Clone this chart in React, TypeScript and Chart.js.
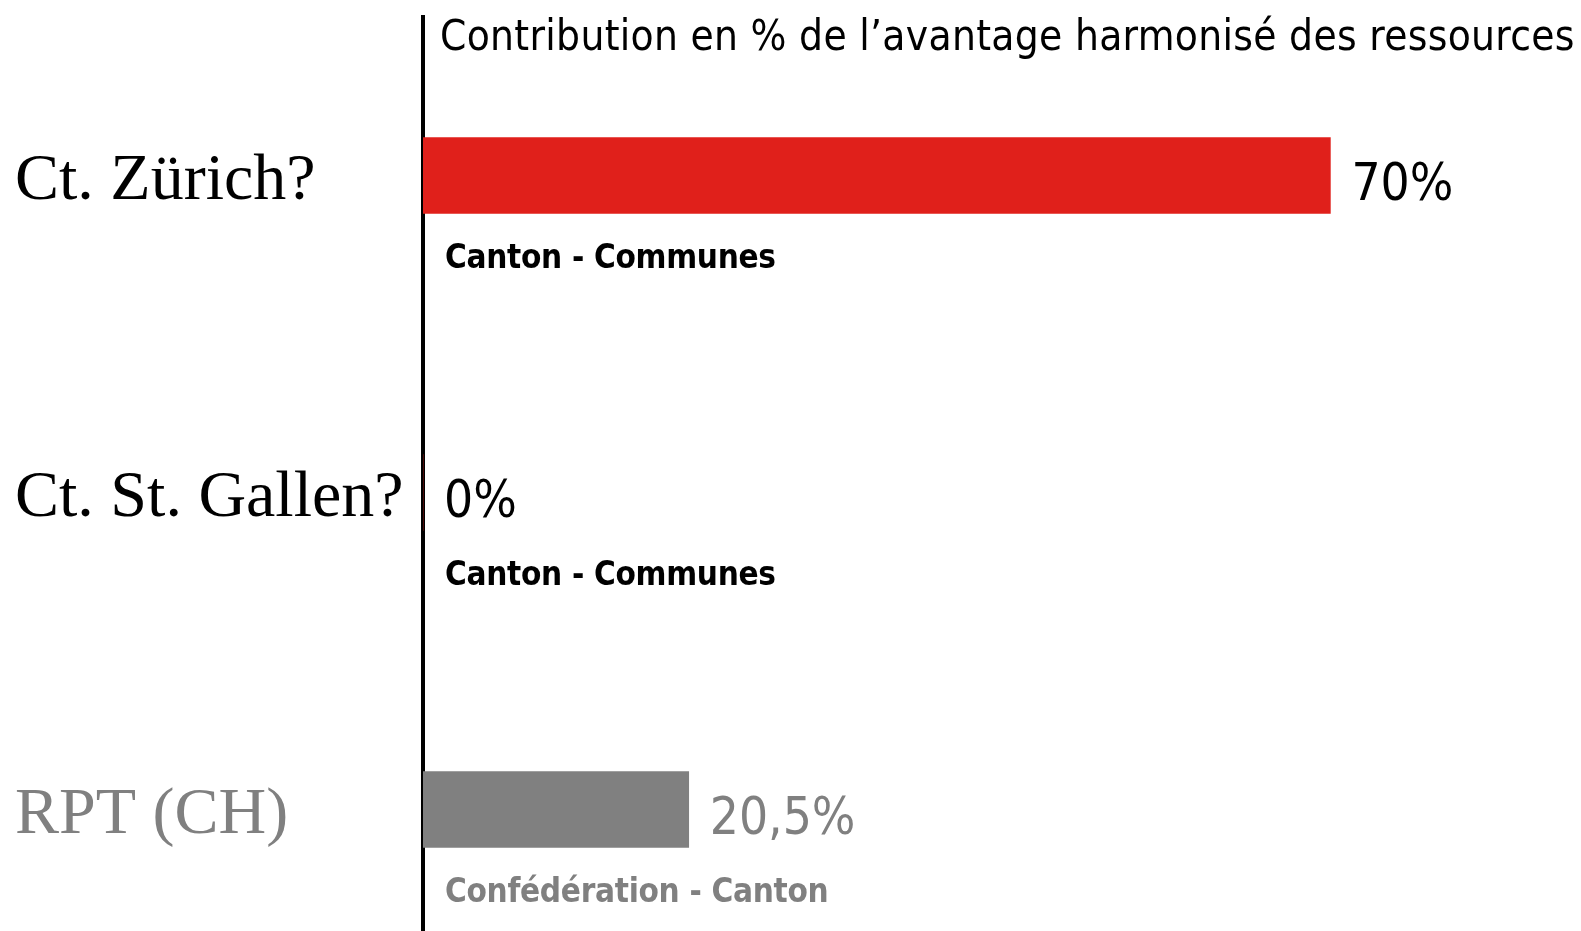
import React, { useEffect, useRef } from "react";
import { Chart, registerables } from "chart.js";

Chart.register(...registerables);

const categories = ["Ct. Zürich?", "Ct. St. Gallen?", "RPT (CH)"];
const values = [70, 0, 20.5];
const barColors = ["#E0201B", "#E0201B", "#808080"];
const textColors = ["#000000", "#000000", "#808080"];
const subLabels = ["Canton - Communes", "Canton - Communes", "Confédération - Canton"];
const titleText = "Contribution en % de l\u2019avantage harmonisé des ressources";

const COND = '"DejaVu Sans Condensed", "Liberation Sans Narrow", "DejaVu Sans", sans-serif';

const fmt = (v: number) => String(v).replace(".", ",") + "%";

const labelPlugin = {
  id: "barLabels",
  afterDatasetsDraw(chart: any) {
    const ctx = chart.ctx;
    const area = chart.chartArea;
    const meta = chart.getDatasetMeta(0);
    ctx.save();
    ctx.fillStyle = "#000";
    ctx.font = `400 42px ${COND}`;
    ctx.textAlign = "left";
    ctx.textBaseline = "alphabetic";
    (ctx as any).letterSpacing = "0.3px";
    ctx.fillText(titleText, area.left + 17, 50);
    meta.data.forEach((bar: any, i: number) => {
      ctx.fillStyle = textColors[i];
      (ctx as any).letterSpacing = "0px";
      ctx.font = `400 51px ${COND}`;
      ctx.fillText(fmt(values[i]), bar.x + 21, bar.y + 24);
      (ctx as any).letterSpacing = "-0.3px";
      ctx.font = `600 33px ${COND}`;
      ctx.fillText(subLabels[i], area.left + 22, bar.y + 92);
    });
    ctx.restore();
  },
};

export default function App() {
  const ref = useRef<HTMLCanvasElement | null>(null);
  useEffect(() => {
    if (!ref.current) return;
    const chart = new Chart(ref.current, {
      type: "bar",
      data: {
        labels: categories.map((c) => ["", c]),
        datasets: [
          {
            data: values,
            backgroundColor: barColors,
            borderWidth: 0,
            barThickness: 76,
          },
        ],
      },
      options: {
        indexAxis: "y",
        animation: false,
        responsive: false,
        layout: { padding: { left: 15, top: 17, right: 121, bottom: 12 } },
        plugins: { legend: { display: false }, tooltip: { enabled: false }, title: { display: false } },
        scales: {
          x: { display: false, min: 0, max: 80 },
          y: {
            grid: { display: false },
            border: { display: true, color: "#000", width: 4 },
            afterFit: (scale: any) => {
              scale.width = 408;
            },
            ticks: {
              autoSkip: false,
              crossAlign: "far",
              font: { family: '"Liberation Serif", "Times New Roman", serif', size: 66, lineHeight: "12px" },
              color: (c: any) => textColors[c.index] ?? "#000",
            },
          },
        },
      },
      plugins: [labelPlugin],
    });
    return () => chart.destroy();
  }, []);
  return (
    <div style={{ position: "fixed", left: 0, top: 0, width: 1581, height: 931, overflow: "hidden", background: "#fff" }}>
      <canvas ref={ref} width={1581} height={983} style={{ display: "block" }} />
    </div>
  );
}
